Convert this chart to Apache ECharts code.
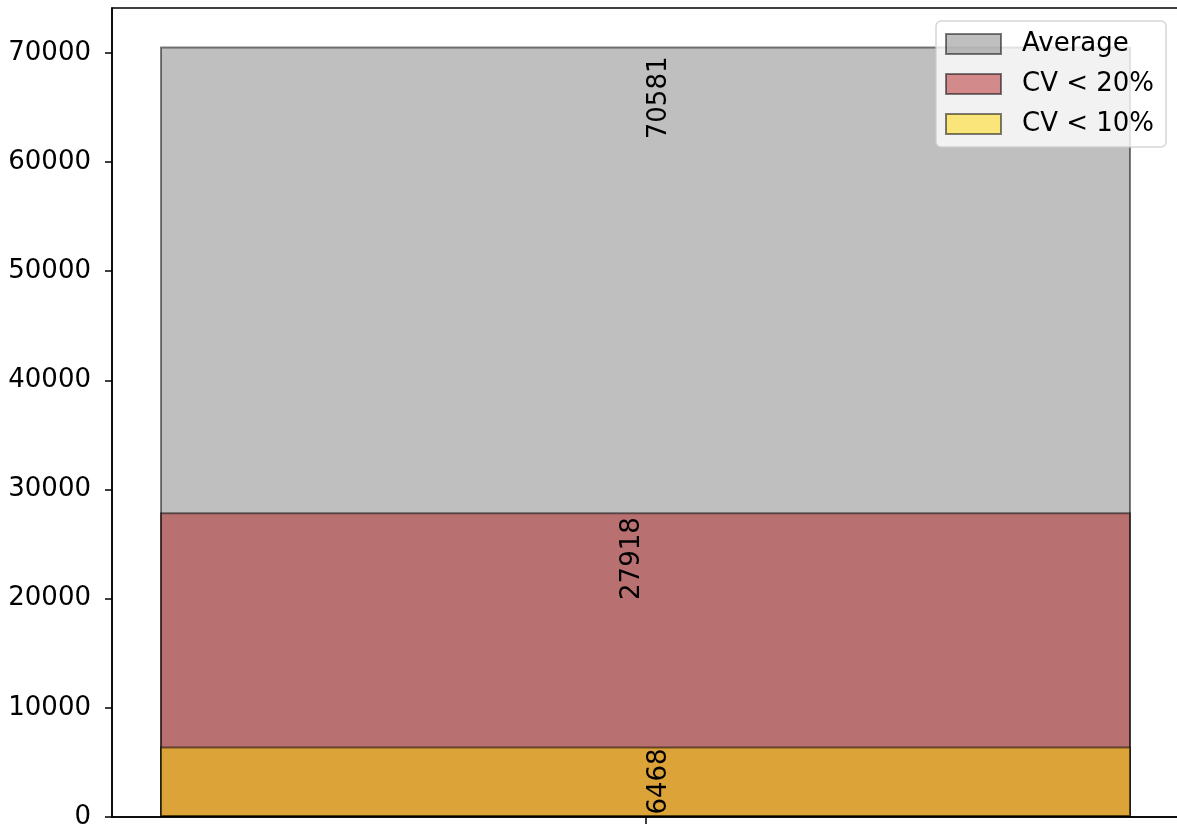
<!DOCTYPE html>
<html>
<head>
<meta charset="utf-8">
<script src="https://cdn.jsdelivr.net/npm/echarts@6/dist/echarts.min.js"></script>
<style>
html,body{margin:0;padding:0;background:#fff;}
#chart{width:1177px;height:827px;}
</style>
</head>
<body>
<div id="chart"></div>
<script>
const categories = [''];
const seriesNames = ['Average', 'CV < 20%', 'CV < 10%'];
const averageValues = [70581];
const cv20Values = [27918];
const cv10Values = [6468];
const yTicks = [0, 10000, 20000, 30000, 40000, 50000, 60000, 70000];

const FONT = 'DejaVu Sans';
const chart = echarts.init(document.getElementById('chart'));

// offset is applied in the rotated text frame: [along text, across text]
function labelStyle(dx, dy) {
  return {
    show: true,
    position: ['50%', dy],
    offset: [0, dx],
    rotate: 90,
    align: 'right',
    verticalAlign: 'middle',
    fontFamily: FONT,
    fontSize: 26,
    color: '#000'
  };
}

chart.setOption({
  animation: false,
  backgroundColor: '#fff',
  grid: {
    left: 112, top: 8, width: 1067, height: 809,
    outerBoundsMode: 'none', containLabel: false,
    show: true, borderColor: '#000', borderWidth: 1.5, backgroundColor: 'transparent'
  },
  legend: {
    orient: 'vertical',
    left: 936,
    top: 21,
    data: seriesNames,
    icon: 'rect',
    itemWidth: 55,
    itemHeight: 20,
    itemGap: 14,
    padding: [10, 12, 10, 9],
    backgroundColor: 'rgba(255,255,255,0.8)',
    borderColor: 'rgba(204,204,204,0.8)',
    borderWidth: 1.5,
    borderRadius: 5,
    textStyle: { fontFamily: FONT, fontSize: 26, color: '#000', padding: [0, 0, 0, 16] }
  },
  xAxis: {
    type: 'category',
    data: categories,
    boundaryGap: true,
    axisLine: { show: true, lineStyle: { color: '#000', width: 1.5 } },
    axisTick: { show: true, alignWithLabel: true, length: 7, lineStyle: { color: '#000', width: 1.5 } },
    axisLabel: { show: false },
    splitLine: { show: false }
  },
  yAxis: {
    type: 'value',
    min: 0,
    max: 74110,
    interval: 10000,
    axisLine: { show: true, lineStyle: { color: '#000', width: 1.5 } },
    axisTick: { show: true, length: 7, lineStyle: { color: '#000', width: 1.5 } },
    axisLabel: {
      fontFamily: FONT, fontSize: 26, color: '#000', margin: 21,
      formatter: function (v) { return yTicks.indexOf(v) >= 0 ? String(v) : ''; },
      showMaxLabel: false
    },
    splitLine: { show: false }
  },
  series: [
    {
      name: seriesNames[0], type: 'bar', data: averageValues, barWidth: 971, barGap: '-100%',
      itemStyle: { color: 'rgba(128,128,128,0.5)', borderColor: 'rgba(0,0,0,0.5)', borderWidth: 2 },
      label: labelStyle(14, 10)
    },
    {
      name: seriesNames[1], type: 'bar', data: cv20Values, barWidth: 971, barGap: '-100%',
      itemStyle: { color: 'rgba(178,34,34,0.5)', borderColor: 'rgba(0,0,0,0.5)', borderWidth: 2 },
      label: labelStyle(-13, 5)
    },
    {
      name: seriesNames[2], type: 'bar', data: cv10Values, barWidth: 971, barGap: '-100%',
      itemStyle: { color: 'rgba(255,215,0,0.5)', borderColor: 'rgba(0,0,0,0.5)', borderWidth: 2 },
      label: labelStyle(14, 2)
    }
  ]
});
</script>
</body>
</html>
